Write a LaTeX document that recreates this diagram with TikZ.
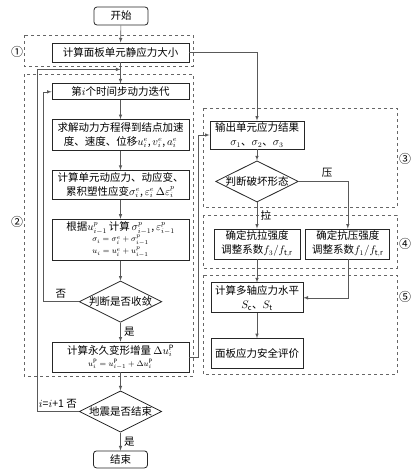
\documentclass[tikz,border=0pt]{standalone}
\usepackage{amsmath}
\usepackage{fontspec}
\setmainfont{Noto Sans CJK SC}
\usepackage{tikz}
\usetikzlibrary{positioning}
\usetikzlibrary{shapes.geometric}
\usepackage{xcolor}

\begin{document}
\begin{tikzpicture}[x=1pt,y=-1pt]
  \tikzset{
box/.style={draw=black!85,
  line width=0.8pt,
    inner sep=0pt,
    minimum width=137pt,
    align=center,
    font=\fontsize{10.5}{14}\selectfont},
term/.style={box, rounded corners=3pt, minimum width=54pt, minimum height=18pt},
decide/.style={diamond, draw=black!85, line width=0.8pt, aspect=2, inner sep=0pt,
    font=\fontsize{10.5}{12}\selectfont},
frame/.style={draw=black!60, dashed, line width=0.6pt},
link/.style={draw=black!65, line width=0.6pt, -latex},
tag/.style={font=\fontsize{12}{12}\selectfont},
small/.style={font=\fontsize{10.5}{12}\selectfont},
}
  \useasboundingbox (0,0) rectangle (419,474);

  % Nodes, main column
  \node [term] (start) at (121,16) {开始};
  \node [box, minimum height=19pt] (stat) at (120.5,52.5) {计算面板单元静应力大小};
  \node [box, minimum height=16pt, below=21pt of stat] (iter) {第$i$个时间步动力迭代};
  \node [box, minimum height=31pt, below=19pt of iter] (solve) {求解动力方程得到结点加速\\度、速度、位移$u_i^{e}$,\,$v_i^{e}$,\,$a_i^{e}$};
  \node [box, minimum height=29pt, below=19pt of solve] (dyn) {计算单元动应力、动应变、\\累积塑性应变$\sigma_i^{e}$,\,$\varepsilon_i^{e}$\,$\Delta\varepsilon_i^{p}$};
  \node [box, minimum height=41pt, below=19pt of dyn] (acc) {根据$u_{i-1}^{p}$\,计算\,$\sigma_{i-1}^{p}$,\,$\varepsilon_{i-1}^{p}$\\[-3pt]
    {\fontsize{8.5}{10}\selectfont $\sigma_i=\sigma_i^{e}+\sigma_{i-1}^{p}$}\\[-2pt]
    {\fontsize{8.5}{10}\selectfont $u_i=u_i^{e}+u_{i-1}^{p}$}};
  \node [decide, below=20pt of acc] (conv) {判断是否收敛};
  \node [box, minimum height=30pt, below=19pt of conv] (perm) {计算永久变形增量 $\Delta u_i^{\mathrm{P}}$\\[-2pt]
    {\fontsize{8.5}{10}\selectfont $u_i^{\mathrm{P}}=u_{i-1}^{\mathrm{P}}+\Delta u_i^{\mathrm{P}}$}};
  \node [decide, below=18pt of perm] (quake) {地震是否结束};
  \node [term, minimum height=17pt, below=18pt of quake] (finish) {结束};

  % Nodes, right column
  \node [box, minimum width=94pt, minimum height=28pt] (out) at (257,135) {输出单元应力结果\\$\sigma_1$、$\sigma_2$、$\sigma_3$};
  \node [decide, below=11pt of out] (fail) {判断破坏形态};
  \node [box, minimum width=86pt, minimum height=30pt] (tens) at (257,244) {确定抗拉强度\\调整系数$f_3/f_{\mathrm{t,r}}$};
  \node [box, minimum width=84pt, minimum height=30pt, right=5pt of tens] (comp) {确定抗压强度\\调整系数$f_1/f_{\mathrm{t,r}}$};
  \node [box, minimum width=92pt, minimum height=30pt, below=23pt of tens] (multi) {计算多轴应力水平\\$S_{\mathrm{c}}$、$S_{\mathrm{t}}$};
  \node [box, minimum width=92pt, minimum height=30pt, below=25pt of multi] (eval) {面板应力安全评价};

  % stage outlines
  \draw [frame] (24,35) rectangle (193,66);
  \draw [frame] (24,74) rectangle (193,376);
  \draw [frame] (203,108) rectangle (397,207);
  \draw [frame] (203,215) rectangle (397,268);
  \draw [frame] (203,275) rectangle (397,374);
  \node [tag] (s1) at (17,52) {①};
  \node [tag] (s2) at (17,222) {②};
  \node [tag] (s3) at (405,159) {③};
  \node [tag] (s4) at (405,244) {④};
  \node [tag] (s5) at (405,297) {⑤};

  % Edges
  \coordinate (merge) at ([yshift=-7pt]stat.south);
  \draw [link] (start) -- (stat);
  \draw [link] (stat) -- (iter);
  \draw [link] (iter) -- (solve);
  \draw [link] (solve) -- (dyn);
  \draw [link] (dyn) -- (acc);
  \draw [link] (acc) -- (conv);
  \draw [link] (conv) -- (perm) node [small,midway,right] {是};
  \draw [link] (perm) -- (quake);
  \draw [link] (quake) -- (finish) node [small,midway,right] {是};
  \draw [link] (conv.west) -- ++(-36,0) node [small,midway,above] {否} |- (iter.west);
  \draw [link] (quake.west) -- ++(-42,0) node [small,midway,above] {$i$=$i$+1 否} |- (merge);
  \draw [link] (stat.east) -| (out.north);
  \draw [link] (perm.east) -- ++(9,0) |- (out.west);
  \draw [link] (out) -- (fail);
  \draw [link] (fail.south) -- (tens.north) node [small,midway,right] {拉};
  \draw [link] (fail.east) -| node [small,pos=0.29,above] {压} (comp.north);
  \draw [link] (tens) -- (multi);
  \draw [link] (comp.south) |- (multi.east);
  \draw [link] (multi) -- (eval);
\end{tikzpicture}
\end{document}
